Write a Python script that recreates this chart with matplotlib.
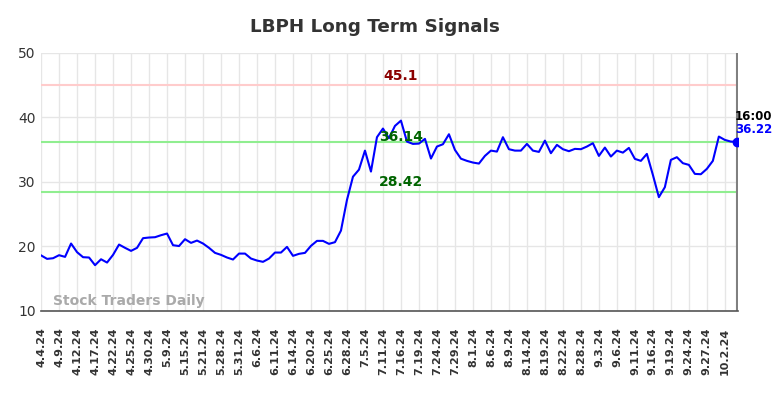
import numpy as np
import matplotlib.pyplot as plt

# price series, one value per trading day
prices = [18.6, 18.06, 18.16, 18.63, 18.37, 20.44, 19.1, 18.32, 18.27, 17.08,
          18.0, 17.49, 18.68, 20.28, 19.77, 19.3, 19.77, 21.27, 21.37, 21.42,
          21.73, 21.99, 20.18, 20.05, 21.11, 20.54, 20.9, 20.44, 19.77, 18.99,
          18.68, 18.27, 17.96, 18.88, 18.88, 18.11, 17.8, 17.6, 18.11, 19.04,
          19.04, 19.92, 18.53, 18.84, 18.99, 20.08, 20.85, 20.85, 20.39, 20.65,
          22.45, 27.2, 30.8, 31.9, 34.85, 31.6, 36.93, 38.27, 36.77, 38.68,
          39.5, 36.25, 35.89, 35.94, 36.67, 33.62, 35.48, 35.84, 37.39, 34.96,
          33.6, 33.26, 33.0, 32.84, 34.03, 34.85, 34.7, 36.93, 35.07, 34.85,
          34.85, 35.89, 34.85, 34.65, 36.4, 34.45, 35.74, 35.07, 34.76, 35.12,
          35.07, 35.48, 36.0, 34.03, 35.32, 33.93, 34.85, 34.54, 35.27, 33.57,
          33.26, 34.34, 31.09, 27.63, 29.18, 33.41, 33.83, 32.9, 32.64, 31.24,
          31.19, 32.02, 33.26, 37.03, 36.51, 36.25, 36.22]

tick_labels = ['4.4.24', '4.9.24', '4.12.24', '4.17.24', '4.22.24', '4.25.24',
               '4.30.24', '5.9.24', '5.15.24', '5.21.24', '5.28.24', '5.31.24',
               '6.6.24', '6.11.24', '6.14.24', '6.20.24', '6.25.24', '6.28.24',
               '7.5.24', '7.11.24', '7.16.24', '7.19.24', '7.24.24', '7.29.24',
               '8.1.24', '8.6.24', '8.9.24', '8.14.24', '8.19.24', '8.22.24',
               '8.28.24', '9.3.24', '9.6.24', '9.11.24', '9.16.24', '9.19.24',
               '9.24.24', '9.27.24', '10.2.24']

upper = 45.1
mid = 36.14
lower = 28.42

x = np.arange(len(prices))

fig = plt.figure(figsize=(7.84, 3.98), dpi=100)
ax = fig.add_axes([0.052, 0.219, 0.889, 0.648])

ax.plot(x, prices, color='#0000ff', linewidth=1.5, zorder=3)
ax.axhline(upper, color='#ffcccc', linewidth=1.5, zorder=2)
ax.axhline(mid, color='#90ee90', linewidth=1.5, zorder=2)
ax.axhline(lower, color='#90ee90', linewidth=1.5, zorder=2)
ax.axvline(x[-1], color='#808080', linewidth=1.5, zorder=2)
ax.plot(x[-1], prices[-1], 'o', color='#0000ff', markersize=6, zorder=4)

xm = 60
ax.text(xm, upper + 0.3, '45.1', color='#8b0000', fontsize=10, fontweight='bold',
        ha='center', va='bottom')
ax.text(xm, mid - 0.2, '36.14', color='#006400', fontsize=10, fontweight='bold',
        ha='center', va='bottom')
ax.text(xm, lower + 0.5, '28.42', color='#006400', fontsize=10, fontweight='bold',
        ha='center', va='bottom')

ax.text(x[-1] - 0.3, 39.2, '16:00', color='black', fontsize=8.5, fontweight='bold',
        ha='left', va='bottom')
ax.text(x[-1] - 0.3, 37.1, '%.2f' % prices[-1], color='#0000ff', fontsize=8.5,
        fontweight='bold', ha='left', va='bottom')

ax.text(2, 10.4, 'Stock Traders Daily', color='#aaaaaa', fontsize=10,
        fontweight='bold', ha='left', va='bottom')

ax.set_ylim(10, 50)
ax.set_xlim(-0.05, 116.15)
ax.set_yticks([10, 20, 30, 40, 50])
ax.set_xticks(x[::3])
ax.set_xticklabels(tick_labels, rotation=90, fontsize=8, fontweight='bold')
ax.tick_params(axis='y', labelsize=10, length=0, colors='#333333')
ax.tick_params(axis='x', length=0, colors='#333333', pad=12)

ax.grid(True, color='#e6e6e6', linewidth=1)
ax.set_axisbelow(True)
for s in ['left', 'top', 'right']:
    ax.spines[s].set_visible(False)
ax.spines['bottom'].set_color('#555555')
ax.spines['bottom'].set_linewidth(1.2)

ax.set_title('LBPH Long Term Signals', fontsize=13.2, fontweight='bold',
             color='#333333', pad=15, x=0.48)

fig.savefig('out.png', dpi=100)
